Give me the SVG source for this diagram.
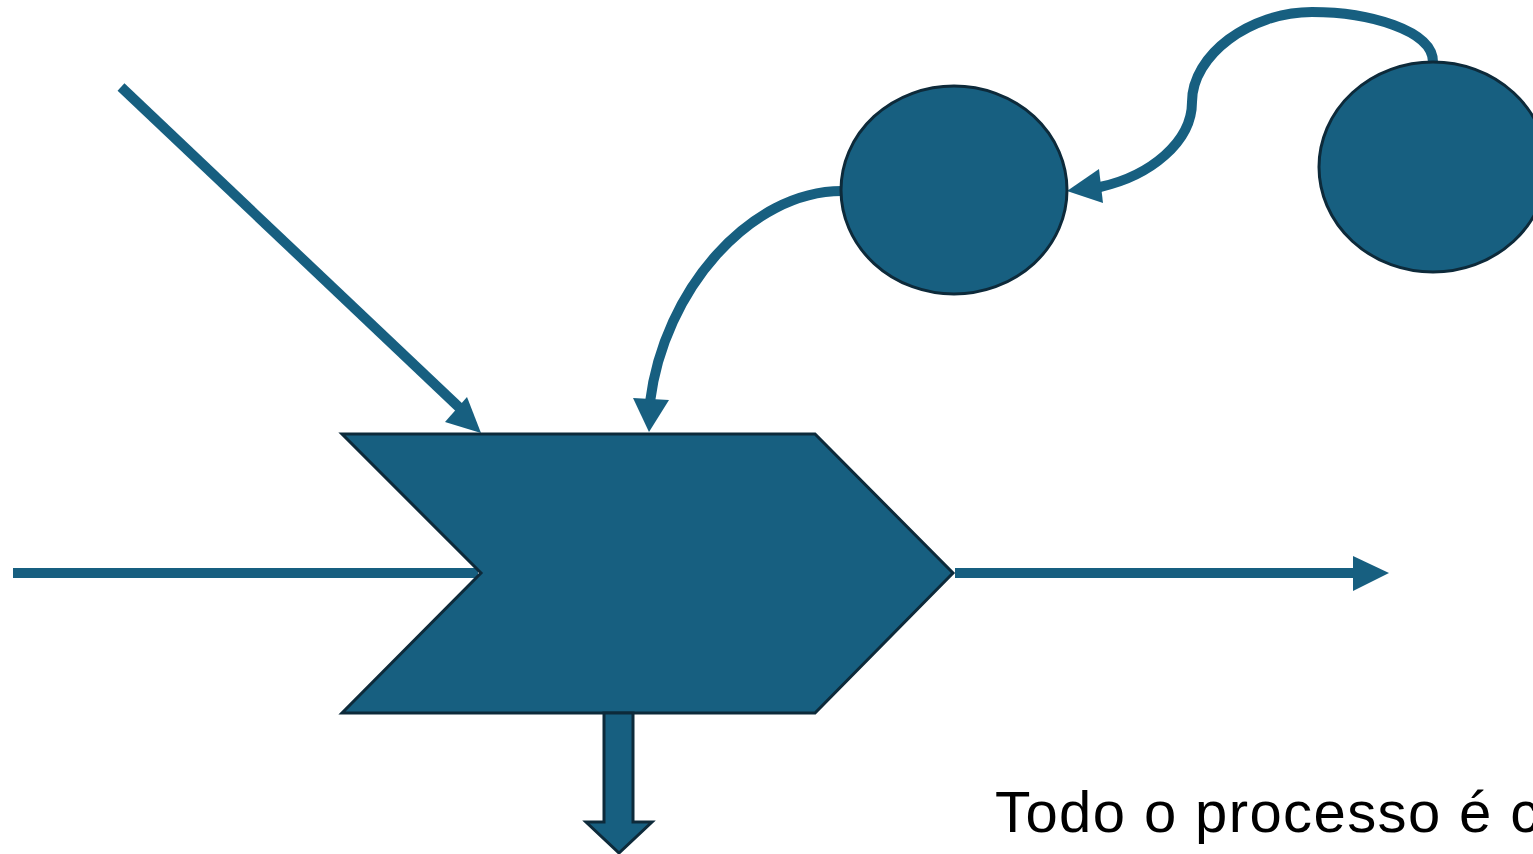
<svg xmlns="http://www.w3.org/2000/svg" width="1533" height="854" viewBox="0 0 1533 854">
<style>
.shape{fill:#175f80;stroke:#0d2a3a;stroke-width:3}
.conn{fill:none;stroke:#175f80;stroke-width:10}
.head{fill:#175f80;stroke:none}
.lbl{font-family:"Liberation Sans",Arial,sans-serif;font-size:58px;fill:#000;letter-spacing:1.4px}
</style>
<rect width="1533" height="854" fill="#fff"/>
<g id="connectors">
<line class="conn" x1="13" y1="573" x2="478" y2="573"/>
<line class="conn" x1="955" y1="573" x2="1356" y2="573"/>
<polygon class="head" points="1353,556 1389,573 1353,591"/>
<line class="conn" x1="121" y1="87" x2="464" y2="412"/>
<polygon class="head" points="481,433 445,422 467,397"/>
<path class="conn" d="M842,191 C750,191 664,290 650,402"/>
<polygon class="head" points="649,432 633,398 669,400"/>
<path class="conn" d="M1433,62 C1433,30 1368,12 1312,12 C1250,12 1192,55 1192,102 C1192,142 1150,176 1100,187"/>
<polygon class="head" points="1067,191 1099,169 1103,203"/>
</g>
<g id="process">
<polygon class="shape" points="342,434 815,434 953,573 815,713 342,713 481,573"/>
</g>
<g id="output-down">
<polygon class="shape" points="604,713 633,713 633,822 652,822 619,853 586,822 604,822"/>
</g>
<g id="node1">
<ellipse class="shape" cx="954" cy="190" rx="113" ry="104"/>
</g>
<g id="node2">
<ellipse class="shape" cx="1433" cy="167" rx="114" ry="105"/>
</g>
<g id="caption">
<text class="lbl" x="995" y="832">Todo o processo é c</text>
</g>
</svg>
